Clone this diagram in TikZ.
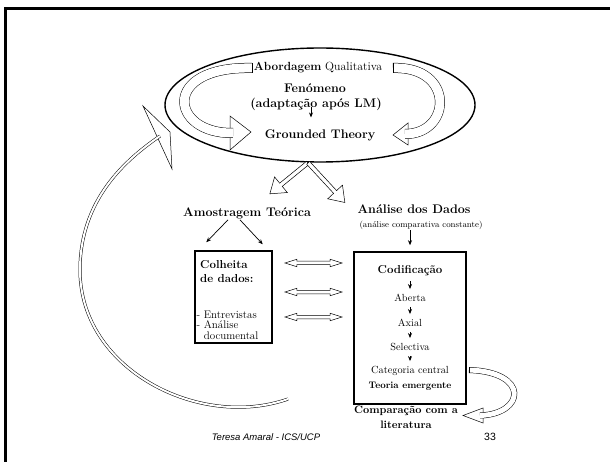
\documentclass[tikz,border=0pt]{standalone}
\usepackage{fontspec}
\newfontfamily\footfont{Liberation Sans}
\usetikzlibrary{shapes.geometric,shapes.arrows,arrows.meta}
\tikzset{
  big/.style={inner sep=1pt, font=\fontsize{12.5}{14}\selectfont\bfseries},
  midb/.style={inner sep=1pt, font=\fontsize{11.5}{14}\selectfont\bfseries},
  mid/.style={inner sep=1pt, font=\fontsize{11.8}{13}\selectfont},
  small/.style={inner sep=1pt, font=\fontsize{10.3}{12}\selectfont},
  tiny/.style={inner sep=1pt, font=\fontsize{8.6}{10}\selectfont},
  box/.style={draw, line width=1.5pt},
  link/.style={-{Stealth[length=5pt,width=4pt]}, line width=0.7pt},
  flow/.style={link, shorten <=4pt, shorten >=4pt},
  band/.style={draw, line width=0.5pt, double=white, double distance=#1},
  head/.style={draw, fill=white, line width=0.5pt, line join=miter},
  sarrow/.style={single arrow, draw, fill=white, line width=0.5pt, inner xsep=0pt, inner ysep=1.8pt,
    single arrow head extend=8pt, single arrow tip angle=70},
  darrow/.style={double arrow, draw, fill=white, line width=0.5pt, inner xsep=0pt, inner ysep=1.5pt,
    double arrow head extend=2pt, double arrow tip angle=35, minimum height=57pt}
}
\begin{document}
\begin{tikzpicture}[x=1pt,y=-1pt]
    \useasboundingbox (0,0) rectangle (610,462);
    \draw[line width=2.5pt] (5.7,462) -- (5.7,8.5) -- (610,8.5);

    \node[ellipse, draw, line width=1.4pt, minimum width=310pt, minimum height=114pt] (ell) at (320,105) {};
    \node[mid] (abo) at (318,68) {\textbf{Abordagem} Qualitativa};
    \node[big] (fen) at (315,88) {Fenómeno};
    \node[big] (adapt) at (316,104) {(adaptação após LM)};
    \node[big] (gt) at (320,135) {Grounded Theory};
    \draw[link] ([xshift=-5pt,yshift=4pt]adapt.south) -- ++(0,10);

    \coordinate (lt) at (252,68);
    \coordinate (le) at (233,133);
    \coordinate (rt) at (393,68);
    \coordinate (re) at (405,134);
    \draw[head] (230,116) -- (251,132) -- (230,150) -- cycle;
    \draw[head] (408,123) -- (393,135) -- (408,145) -- cycle;
    \draw[band=9pt] (lt) .. controls (160,66) and (170,134) .. (le);
    \draw[band=9pt] (rt) .. controls (455,66) and (452,134) .. (re);
    \draw[line width=0.5pt] ([yshift=4.75pt]lt) -- ([yshift=-4.75pt]lt);
    \draw[line width=0.5pt] ([yshift=4.75pt]rt) -- ([yshift=-4.75pt]rt);

    \node[sarrow, rotate=219.2, minimum height=49pt, anchor=tail] (al) at ([xshift=-12pt]ell.south) {};
    \node[sarrow, rotate=-47.2, minimum height=54pt, anchor=tail] (ar) at ([xshift=-12pt]ell.south) {};

    \node[big] (amo) at (247,213) {Amostragem Teórica};
    \node[big] (ana) at (414,209) {Análise dos Dados};
    \node[tiny] (comp) at (421,225) {(análise comparativa constante)};

    \node[box, minimum width=77pt, minimum height=92pt] (lbox) at (233.5,297) {};
    \node[midb, anchor=north west, align=left, inner sep=0pt] (col) at (200,260) {Colheita\\de dados:};
    \node[small, anchor=north west, align=left, inner sep=0pt, font=\fontsize{11}{10.2}\selectfont] (list) at (196.5,311) {- Entrevistas\\- Análise\\\phantom{- }documental};

    \draw[link] ([xshift=-19pt]amo.south) -- ([xshift=12pt,yshift=8pt]lbox.north west);
    \draw[link] ([xshift=-7pt]amo.south) -- ([xshift=-10pt,yshift=6pt]lbox.north east);

    \node[box, minimum width=112pt, minimum height=152pt] (rbox) at (410,328) {};
    \draw[link, shorten >=6pt] (rbox.north |- comp.south) -- (rbox.north);
    \node[midb] (cod) at (410,271) {Codificação};
    \node[small] (abe) at (410,298) {Aberta};
    \node[small] (axi) at (410,323) {Axial};
    \node[small] (sel) at (410,347) {Selectiva};
    \node[small] (cat) at (410,371) {Categoria central};
    \node[small, font=\fontsize{9.5}{11}\selectfont\bfseries] (teo) at (410,386) {Teoria emergente};
    \foreach \a/\b in {cod/abe,abe/axi,axi/sel,sel/cat}{
        \draw[flow] (\a) -- (\b);
    }

    \foreach \y/\n in {263/h1,292/h2,317/h3}{
        \node[darrow] (\n) at (313.5,\y) {};
    }

    \node[midb, align=center, font=\fontsize{10.8}{15}\selectfont\bfseries] (cmp) at (406,417) {Comparação com a\\literatura};
    \coordinate (ct) at (469,370);
    \coordinate (ce) at (480,415.5);
    \draw[head] (483,408) -- (463,415.5) -- (483,423) -- cycle;
    \draw[band=5pt] (ct) .. controls (530,372) and (525,414) .. (ce);
    \draw[line width=0.5pt] ([yshift=3pt]ct) -- ([yshift=-3pt]ct);

    \coordinate (bt) at (288,399);
    \coordinate (be) at (160,136);
    \draw[head] (143,106) -- (170,132) -- (172,169) -- cycle;
    \draw[band=2pt] (bt) .. controls (200,430) and (80,370) .. (80,270) .. controls (80,200) and (125,160) .. (be);

    \node[font=\footfont\itshape\fontsize{9.5}{11}\selectfont] (foot) at (266,437) {Teresa Amaral - ICS/UCP};
    \node[font=\footfont\fontsize{10.5}{12}\selectfont] (num) at (490,437) {33};
\end{tikzpicture}
\end{document}
